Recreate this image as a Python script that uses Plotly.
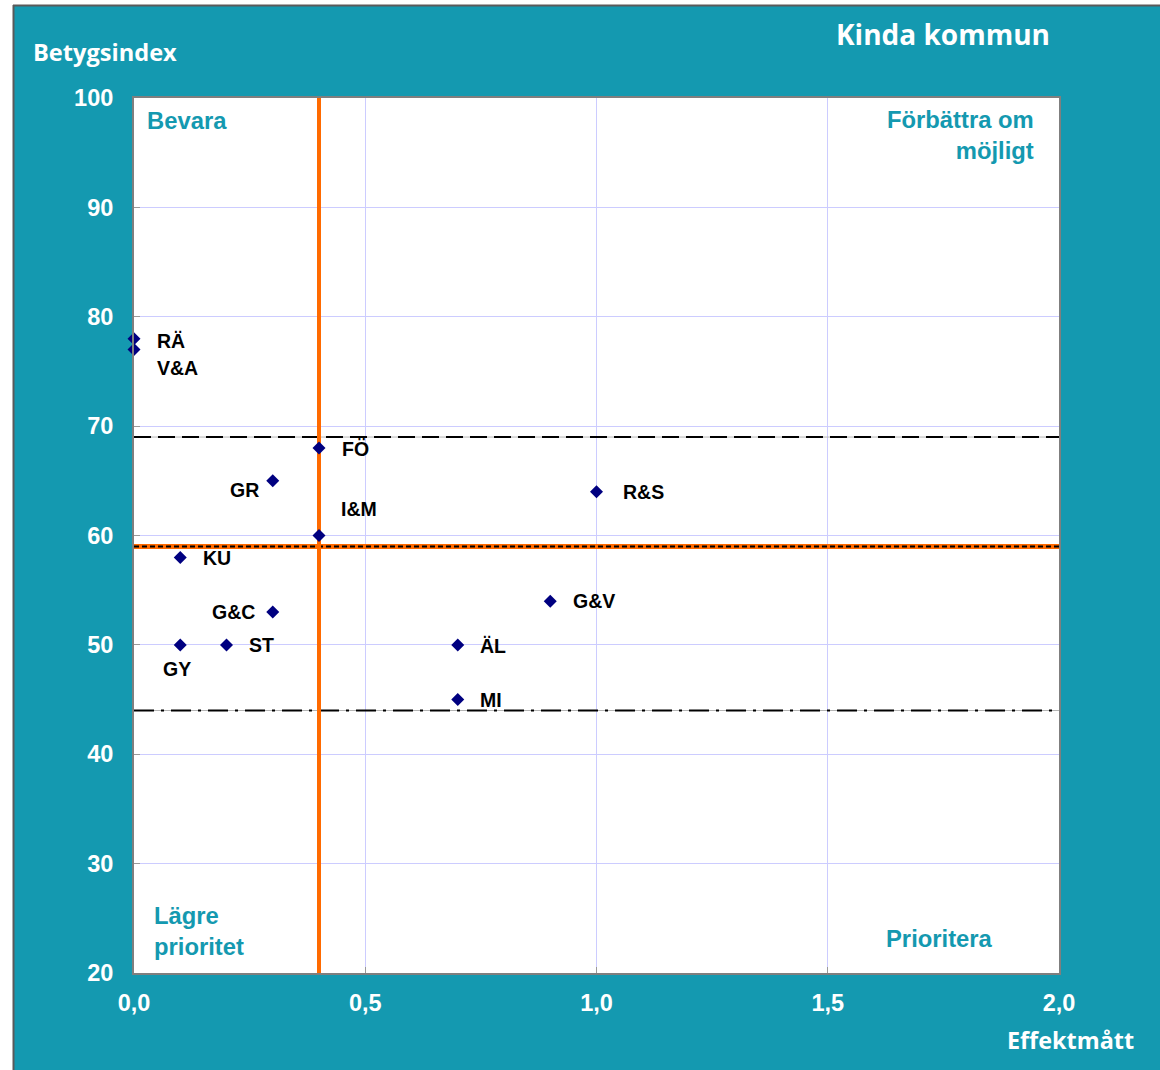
import plotly.graph_objects as go

# ---------------- data ----------------
categories = ["RÄ", "V&A", "FÖ", "GR", "I&M", "KU", "G&C", "GY", "ST", "ÄL", "MI", "G&V", "R&S"]
effektmatt = [0.0, 0.0, 0.4, 0.3, 0.4, 0.1, 0.3, 0.1, 0.2, 0.7, 0.7, 0.9, 1.0]
betygsindex = [78, 77, 68, 65, 60, 58, 53, 50, 50, 50, 45, 54, 64]

x_threshold = 0.4      # vertical orange line
y_mean = 59            # horizontal orange/dashed line
y_upper = 69           # dashed line
y_lower = 44           # dash-dot line

x_range = [0, 2]
y_range = [20, 100]
x_tick_vals = [0, 0.5, 1.0, 1.5, 2.0]
x_tick_labels = ["0,0", "0,5", "1,0", "1,5", "2,0"]
y_tick_vals = [20, 30, 40, 50, 60, 70, 80, 90, 100]
y_tick_labels = ["20", "30", "40", "50", "60", "70", "80", "90", "100"]

title_text = "Kinda kommun"
y_title = "Betygsindex"
x_title = "Effektmått"
quadrants = ["Bevara", "Förbättra om<br>möjligt", "Lägre<br>prioritet", "Prioritera"]

# ---------------- style ----------------
W, H = 1160, 1070
L, R, T, B = 134, 101, 98, 97
TEAL = "#1499B0"
ORANGE = "#FF6A00"
NAVY = "#000080"
FONT = "Arial, Liberation Sans, sans-serif"
TITLE_FONT = "Open Sans, Noto Sans, sans-serif"

pw, ph = W - L - R, H - T - B


def xp(px):
    return (px - L) / pw


def yp(py):
    return (H - B - py) / ph


# label placement: (xanchor, xshift, yshift) per category
label_place = {
    "RÄ": ("left", 21, -2),
    "V&A": ("left", 21, -18),
    "FÖ": ("left", 21, -1),
    "GR": ("right", -12, -9),
    "I&M": ("left", 20, 27),
    "KU": ("left", 21, -1),
    "G&C": ("right", -16, 0),
    "GY": ("center", -3, -24),
    "ST": ("left", 20, 0),
    "ÄL": ("left", 20, -1),
    "MI": ("left", 20, 0),
    "G&V": ("left", 21, 0),
    "R&S": ("left", 24, 0),
}

fig = go.Figure()


def hline(yv, **line):
    fig.add_trace(go.Scatter(x=x_range, y=[yv, yv], mode="lines", line=line,
                             hoverinfo="skip", showlegend=False))


# reference lines
hline(y_mean, color=ORANGE, width=5)
hline(y_mean, color="black", width=2, dash="5px,3px")
hline(y_upper, color="#b4b4b4", width=1)
hline(y_upper, color="black", width=2, dash="17px,7px")
hline(y_lower, color="#b4b4b4", width=1)
hline(y_lower, color="black", width=2, dash="20px,7px,3px,7px")
fig.add_trace(go.Scatter(x=[x_threshold, x_threshold], y=y_range, mode="lines",
                         line=dict(color=ORANGE, width=4), hoverinfo="skip", showlegend=False))

# points
fig.add_trace(go.Scatter(x=effektmatt, y=betygsindex, mode="markers", text=categories,
                         marker=dict(symbol="diamond", color=NAVY, size=10),
                         cliponaxis=False, showlegend=False))

annotations = []
for name, xv, yv in zip(categories, effektmatt, betygsindex):
    anc, xs, ys = label_place[name]
    annotations.append(dict(x=xv, y=yv, xref="x", yref="y", text=name, showarrow=False,
                            xanchor=anc, yanchor="middle", xshift=xs, yshift=ys,
                            font=dict(family=FONT, size=19.5, color="black", weight="bold")))

qfont = dict(family=FONT, size=23.8, color=TEAL, weight="bold")
annotations += [
    dict(x=xp(145), y=yp(120), xref="paper", yref="paper", text=quadrants[0], showarrow=False,
         xanchor="left", yanchor="middle", align="left", font=qfont),
    dict(x=xp(1036), y=yp(135), xref="paper", yref="paper", text=quadrants[1], showarrow=False,
         xanchor="right", yanchor="middle", align="right", font=qfont),
    dict(x=xp(152), y=yp(931), xref="paper", yref="paper", text=quadrants[2], showarrow=False,
         xanchor="left", yanchor="middle", align="left", font=qfont),
    dict(x=xp(995), y=yp(938), xref="paper", yref="paper", text=quadrants[3], showarrow=False,
         xanchor="right", yanchor="middle", align="right", font=qfont),
    dict(x=xp(1052), y=yp(34), xref="paper", yref="paper", text=title_text, showarrow=False,
         xanchor="right", yanchor="middle",
         font=dict(family=TITLE_FONT, size=28, color="white", weight="bold")),
    dict(x=xp(31), y=yp(52), xref="paper", yref="paper", text=y_title, showarrow=False,
         xanchor="left", yanchor="middle",
         font=dict(family=TITLE_FONT, size=23.6, color="white", weight="bold")),
    dict(x=xp(1005), y=yp(1040), xref="paper", yref="paper", text=x_title, showarrow=False,
         xanchor="left", yanchor="middle",
         font=dict(family=TITLE_FONT, size=23.4, color="white", weight="bold")),
]

shapes = [
    # white outer strips (left and top) outside the teal frame
    dict(type="rect", xref="paper", yref="paper", x0=xp(0), x1=xp(13), y0=yp(H), y1=yp(0),
         fillcolor="white", line=dict(width=0), layer="above"),
    dict(type="rect", xref="paper", yref="paper", x0=xp(0), x1=xp(W), y0=yp(5), y1=yp(0),
         fillcolor="white", line=dict(width=0), layer="above"),
    # frame border lines
    dict(type="line", xref="paper", yref="paper", x0=xp(13.5), x1=xp(13.5), y0=yp(H), y1=yp(5),
         line=dict(color="#5a5a5a", width=2), layer="above"),
    dict(type="line", xref="paper", yref="paper", x0=xp(13), x1=xp(W), y0=yp(5.5), y1=yp(5.5),
         line=dict(color="#5a5a5a", width=2), layer="above"),
]

tickfont = dict(family=FONT, size=23.5, color="white", weight="bold")
fig.update_layout(
    width=W, height=H, autosize=False,
    margin=dict(l=L, r=R, t=T, b=B, pad=0),
    paper_bgcolor=TEAL, plot_bgcolor="white",
    showlegend=False,
    annotations=annotations, shapes=shapes,
    xaxis=dict(range=x_range, tickvals=x_tick_vals, ticktext=x_tick_labels,
               showgrid=True, gridcolor="#CCCCFF", gridwidth=1, zeroline=False,
               showline=True, linecolor="#7f7f7f", linewidth=2, mirror=True,
               ticks="inside", ticklen=6, tickcolor="#9a9a9a",
               tickfont=tickfont, ticklabelstandoff=8),
    yaxis=dict(range=y_range, tickvals=y_tick_vals, ticktext=y_tick_labels,
               showgrid=True, gridcolor="#CCCCFF", gridwidth=1, zeroline=False,
               showline=True, linecolor="#7f7f7f", linewidth=2, mirror=True,
               ticks="inside", ticklen=6, tickcolor="#9a9a9a",
               tickfont=tickfont, ticklabelstandoff=14),
)

fig.write_html("out.html", config={"displayModeBar": False},
               post_script="document.body.style.margin='0';")
